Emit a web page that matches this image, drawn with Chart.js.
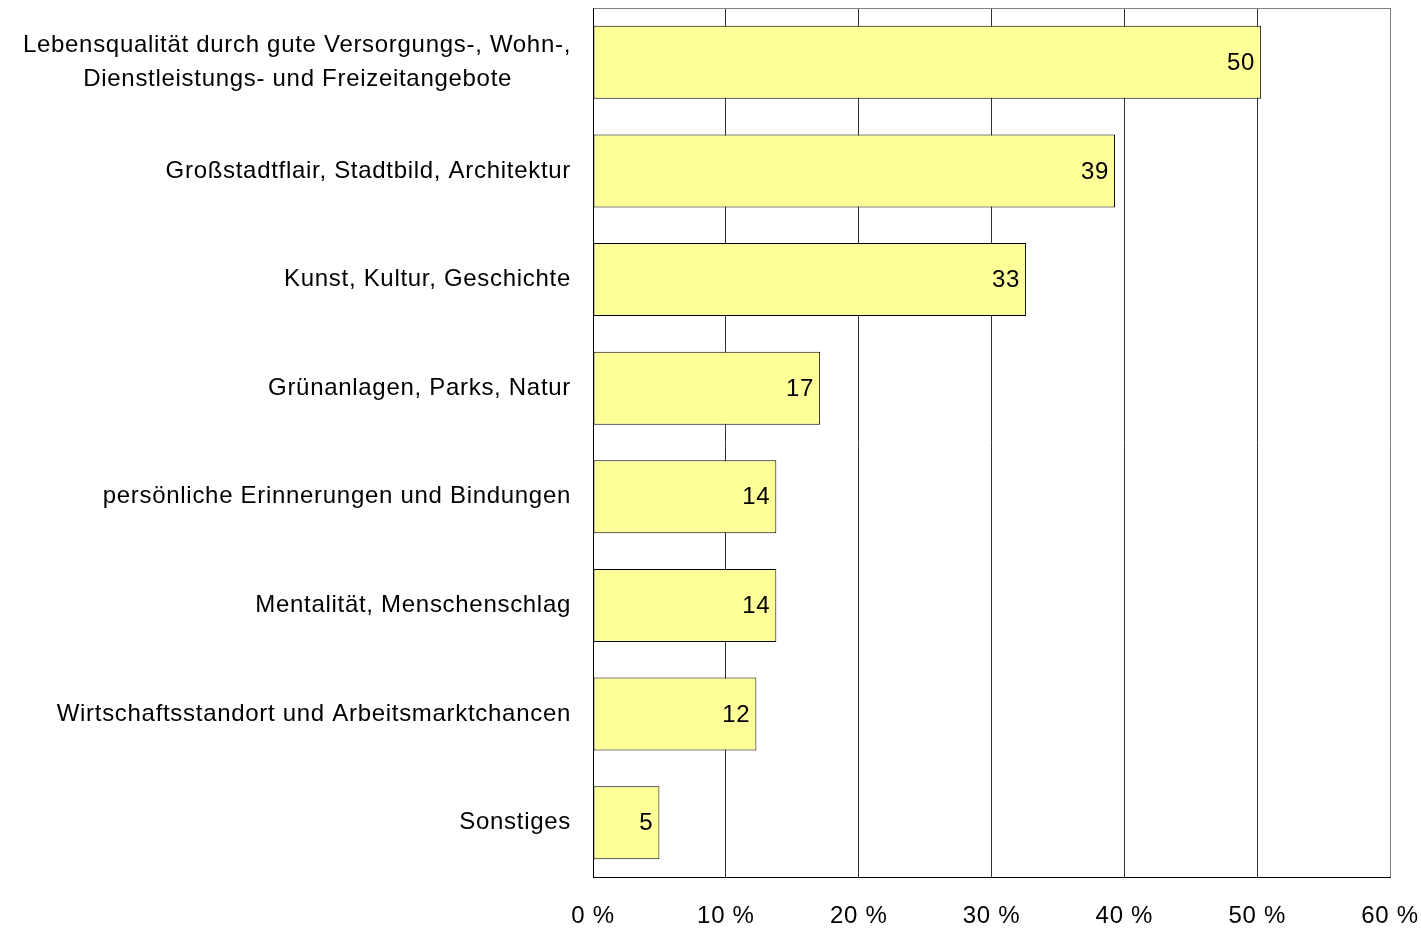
<!DOCTYPE html>
<html>
<head>
<meta charset="utf-8">
<script src="https://cdn.jsdelivr.net/npm/chart.js@4.4.1/dist/chart.umd.min.js"></script>
<style>
  html, body { margin: 0; padding: 0; background: #fff; }
  #wrap { width: 1421px; height: 928px; position: relative; }
</style>
</head>
<body>
<div id="wrap"><canvas id="chart"></canvas></div>
<script>
// Data
const categories = [
    ['Lebensqualität durch gute Versorgungs-, Wohn-,', 'Dienstleistungs- und Freizeitangebote'],
    'Großstadtflair, Stadtbild, Architektur',
    'Kunst, Kultur, Geschichte',
    'Grünanlagen, Parks, Natur',
    'persönliche Erinnerungen und Bindungen',
    'Mentalität, Menschenschlag',
    'Wirtschaftsstandort und Arbeitsmarktchancen',
    'Sonstiges'
];
const values = [50.3, 39.3, 32.6, 17.1, 13.8, 13.8, 12.3, 5.0];
const xTicks = [0, 10, 20, 30, 40, 50, 60];

const FONT = '"Liberation Sans", Arial, sans-serif';
const SPACING = '0.7px';

// measure helper so multi-line labels look centred under each other
const measureCtx = document.createElement('canvas').getContext('2d');
function centerLines(lines) {
    if (!Array.isArray(lines)) return lines;
    measureCtx.font = '24px ' + FONT;
    measureCtx.letterSpacing = SPACING;
    const widths = lines.map(l => measureCtx.measureText(l).width);
    const maxW = Math.max(...widths);
    const spaceW = measureCtx.measureText(' ').width;
    return lines.map((l, i) => l + ' '.repeat(Math.round((maxW - widths[i]) / 2 / spaceW)));
}

// the original text is set slightly wider than plain Arial
const textSpacing = {
    id: 'textSpacing',
    beforeLayout(chart) { chart.ctx.letterSpacing = SPACING; },
    beforeDraw(chart) { chart.ctx.letterSpacing = SPACING; }
};

// value labels inside the end of each bar
const barLabels = {
    id: 'barLabels',
    afterDatasetsDraw(chart) {
        const ctx = chart.ctx;
        const meta = chart.getDatasetMeta(0);
        ctx.save();
        ctx.font = '24px ' + FONT;
        ctx.fillStyle = '#000';
        ctx.textAlign = 'right';
        ctx.textBaseline = 'middle';
        meta.data.forEach((bar, i) => {
            ctx.fillText(String(Math.round(values[i])), bar.x - 6, bar.y + 1);
        });
        ctx.restore();
    }
};

new Chart(document.getElementById('chart').getContext('2d'), {
    type: 'bar',
    data: {
        labels: categories,
        datasets: [{
            data: values,
            backgroundColor: '#FFFF99',
            borderColor: '#000000',
            borderWidth: 1,
            borderSkipped: false,
            categoryPercentage: 1,
            barPercentage: 0.672
        }]
    },
    options: {
        indexAxis: 'y',
        responsive: true,
        maintainAspectRatio: false,
        animation: false,
        layout: { padding: { top: 8, right: 31, left: 0, bottom: 0 } },
        plugins: {
            legend: { display: false },
            tooltip: { enabled: false }
        },
        scales: {
            x: {
                min: xTicks[0],
                max: xTicks[xTicks.length - 1],
                afterBuildTicks: scale => { scale.ticks = xTicks.map(v => ({ value: v })); },
                afterFit: scale => {
                    scale.height = 51;
                    scale.paddingLeft = 0;
                    scale.paddingRight = 0;
                },
                grid: {
                    drawTicks: false,
                    color: c => c.index === xTicks.length - 1 ? '#808080' : '#333333'
                },
                border: { color: '#000', width: 1 },
                ticks: {
                    padding: 25,
                    color: '#000',
                    maxRotation: 0,
                    font: { family: FONT, size: 24 },
                    callback: v => v + ' %'
                }
            },
            y: {
                afterFit: scale => {
                    scale.width = 593;
                    scale.paddingTop = 0;
                    scale.paddingBottom = 0;
                },
                grid: {
                    drawTicks: false,
                    color: c => c.index === 0 ? '#808080' : 'rgba(0,0,0,0)'
                },
                border: { color: '#000', width: 1 },
                ticks: {
                    padding: 22,
                    color: '#000',
                    font: { family: FONT, size: 24, lineHeight: 1.45 },
                    callback: function (value) {
                        return centerLines(this.getLabelForValue(value));
                    }
                }
            }
        }
    },
    plugins: [textSpacing, barLabels]
});
</script>
</body>
</html>
